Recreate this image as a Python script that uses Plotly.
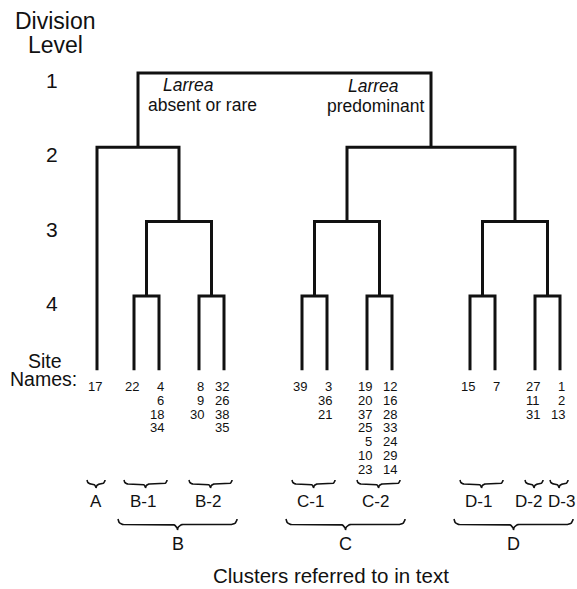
import math
import plotly.graph_objects as go

# ---------------- data ----------------
division_levels = [1, 2, 3, 4]
site_columns = [
    ["17"], ["22"], ["4", "6", "18", "34"], ["8", "9", "30"], ["32", "26", "38", "35"],
    ["39"], ["3", "36", "21"], ["19", "20", "37", "25", "5", "10", "23"],
    ["12", "16", "28", "33", "24", "29", "14"],
    ["15"], ["7"], ["27", "11", "31"], ["1", "2", "13"],
]
# merges: nodes 0-12 are site columns, node 13+i is merge i
merge_left = [1, 3, 5, 7, 9, 11, 13, 15, 17, 0, 20, 22]
merge_right = [2, 4, 6, 8, 10, 12, 14, 16, 18, 19, 21, 23]
merge_level = [4, 4, 4, 4, 4, 4, 3, 3, 3, 2, 2, 1]

small_cluster_names = ["A", "B-1", "B-2", "C-1", "C-2", "D-1", "D-2", "D-3"]
small_cluster_members = [[0], [1, 2], [3, 4], [5, 6], [7, 8], [9, 10], [11], [12]]
major_cluster_names = ["B", "C", "D"]
major_cluster_members = [[1, 2, 3, 4], [5, 6, 7, 8], [9, 10, 11, 12]]

root_left_label = ["<i>Larrea</i>", "absent or rare"]
root_right_label = ["<i>Larrea</i>", "predominant"]
footer = "Clusters referred to in text"

# ---------------- layout constants ----------------
W, H = 577, 589
PX0, PXL = 73.0, 74.3          # pixel of level 1, pixels per level
LEAF_LEVEL = 5                 # leaves hang down to this level
FIRST_X = 97
GAP_BY_LEVEL = {1: 78, 2: 78, 3: 40, 4: 25}
GAP_OVERRIDE = {0: 37}
LABEL_SHIFT = {"A": 0, "D-2": -6, "D-3": 2}
FONT = "Liberation Sans, Arial, Helvetica, sans-serif"
INK = "#111111"


def lv(px):
    return 1 + (px - PX0) / PXL


n_leaf = len(site_columns)
members = [{i} for i in range(n_leaf)]
for l, r in zip(merge_left, merge_right):
    members.append(members[l] | members[r])
node_level = [LEAF_LEVEL] * n_leaf + list(merge_level)


def lca_level(a, b):
    best = None
    for k in range(len(merge_level)):
        m = members[n_leaf + k]
        if a in m and b in m:
            if best is None or merge_level[k] > best:
                best = merge_level[k]
    return best


leaf_x = [FIRST_X]
for i in range(n_leaf - 1):
    g = GAP_OVERRIDE.get(i, GAP_BY_LEVEL[lca_level(i, i + 1)])
    leaf_x.append(leaf_x[-1] + g)

node_x = list(leaf_x)
for l, r in zip(merge_left, merge_right):
    node_x.append((node_x[l] + node_x[r]) / 2)

fig = go.Figure()

# dendrogram
xs, ys = [], []
for k, (l, r) in enumerate(zip(merge_left, merge_right)):
    lev = merge_level[k]
    xs += [node_x[l], node_x[l], node_x[r], node_x[r], None]
    ys += [node_level[l], lev, lev, node_level[r], None]
fig.add_trace(go.Scatter(x=xs, y=ys, mode="lines",
                         line=dict(color=INK, width=3), hoverinfo="skip"))


# braces
def brace(x0, x1, top_px, depth_px):
    r = depth_px / 2
    xm = (x0 + x1) / 2
    mid = top_px + r
    pts = []
    n = 8
    for i in range(n + 1):
        t = i / n * math.pi / 2
        pts.append((x0 + r - r * math.cos(t), top_px + r * math.sin(t)))
    for i in range(n + 1):
        t = i / n * math.pi / 2
        pts.append((xm - r + r * math.sin(t), mid + r - r * math.cos(t)))
    for i in range(n + 1):
        t = i / n * math.pi / 2
        pts.append((xm + r - r * math.cos(t), mid + r - r * math.sin(t)))
    for i in range(n + 1):
        t = i / n * math.pi / 2
        pts.append((x1 - r + r * math.sin(t), top_px + r * math.cos(t)))
    return [p[0] for p in pts], [lv(p[1]) for p in pts]


bx, by = [], []
annotations = []
for name, mem in zip(small_cluster_names, small_cluster_members):
    x0 = min(leaf_x[i] for i in mem) - 10
    x1 = max(leaf_x[i] for i in mem) + 8
    a, b = brace(x0, x1, 480, 8)
    bx += a + [None]
    by += b + [None]
    annotations.append(dict(x=(x0 + x1) / 2 + LABEL_SHIFT.get(name, -3), y=lv(501),
                            text=name, showarrow=False,
                            xanchor="center", yanchor="middle",
                            font=dict(size=17, color=INK, family=FONT)))
for name, mem in zip(major_cluster_names, major_cluster_members):
    x0 = min(leaf_x[i] for i in mem) - 16
    x1 = max(leaf_x[i] for i in mem) + 13
    a, b = brace(x0, x1, 519, 11)
    bx += a + [None]
    by += b + [None]
    annotations.append(dict(x=(x0 + x1) / 2, y=lv(544), text=name, showarrow=False,
                            xanchor="center", yanchor="middle",
                            font=dict(size=18, color=INK, family=FONT)))
fig.add_trace(go.Scatter(x=bx, y=by, mode="lines",
                         line=dict(color=INK, width=1.6), hoverinfo="skip"))

# site names
for i, col in enumerate(site_columns):
    for row, name in enumerate(col):
        annotations.append(dict(x=leaf_x[i] + 7, y=lv(386.5 + 13.8 * row), text=name,
                                showarrow=False, xanchor="right", yanchor="middle",
                                font=dict(size=13, color=INK, family=FONT)))

# division level labels
for d in division_levels:
    annotations.append(dict(x=52, y=d + 7.5 / PXL, text=str(d), showarrow=False,
                            xanchor="center", yanchor="middle",
                            font=dict(size=21, color=INK, family=FONT)))

annotations += [
    dict(x=55, y=lv(21), text="Division", showarrow=False, xanchor="center", yanchor="middle",
         font=dict(size=23, color=INK, family=FONT)),
    dict(x=55, y=lv(44.5), text="Level", showarrow=False, xanchor="center", yanchor="middle",
         font=dict(size=23, color=INK, family=FONT)),
    dict(x=45, y=lv(361), text="Site", showarrow=False, xanchor="center", yanchor="middle",
         font=dict(size=19.5, color=INK, family=FONT)),
    dict(x=43, y=lv(378.5), text="Names:", showarrow=False, xanchor="center", yanchor="middle",
         font=dict(size=19.5, color=INK, family=FONT)),
    dict(x=331, y=lv(575), text=footer, showarrow=False, xanchor="center", yanchor="middle",
         font=dict(size=20.5, color=INK, family=FONT)),
]

rl, rr = node_x[merge_left[-1]], node_x[merge_right[-1]]
annotations += [
    dict(x=rl + 50, y=lv(85), text=root_left_label[0], showarrow=False, xanchor="center",
         yanchor="middle", font=dict(size=17.5, color=INK, family=FONT)),
    dict(x=rl + 64, y=lv(105), text=root_left_label[1], showarrow=False, xanchor="center",
         yanchor="middle", font=dict(size=17.5, color=INK, family=FONT)),
    dict(x=rr - 58, y=lv(86), text=root_right_label[0], showarrow=False, xanchor="center",
         yanchor="middle", font=dict(size=17.5, color=INK, family=FONT)),
    dict(x=rr - 56, y=lv(106), text=root_right_label[1], showarrow=False, xanchor="center",
         yanchor="middle", font=dict(size=17.5, color=INK, family=FONT)),
]

fig.update_layout(
    width=W, height=H,
    margin=dict(l=0, r=0, t=0, b=0),
    paper_bgcolor="white", plot_bgcolor="white",
    showlegend=False,
    xaxis=dict(range=[0, W], visible=False, fixedrange=True),
    yaxis=dict(range=[lv(H), lv(0)], visible=False, fixedrange=True),
    annotations=annotations,
)

fig.write_html("out.html", config={"displayModeBar": False},
               post_script="document.body.style.margin='0px';document.body.style.overflow='hidden';")
